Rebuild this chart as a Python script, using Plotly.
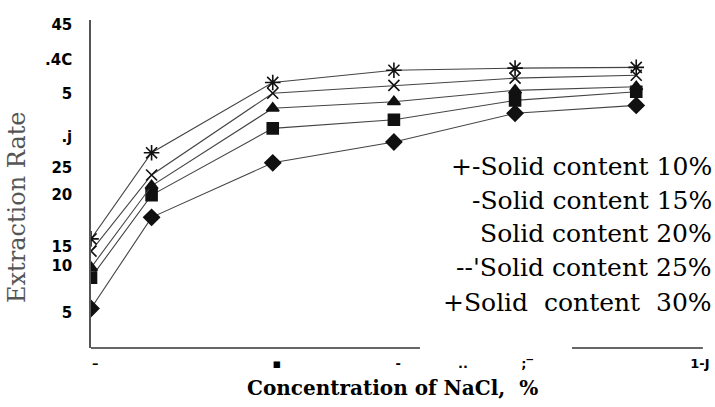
import plotly.graph_objects as go

# NaCl concentration (%)
nacl = [0, 1, 3, 5, 7, 9]

# Extraction rate per solid content
solid_10 = [5.5, 18.2, 25.8, 28.7, 32.7, 33.8]
solid_15 = [9.8, 21.3, 30.6, 31.8, 34.5, 35.7]
solid_20 = [11.2, 22.6, 33.4, 34.3, 35.9, 36.4]
solid_25 = [13.5, 24.1, 35.5, 36.6, 37.6, 38.0]
solid_30 = [15.2, 27.2, 37.0, 38.7, 39.0, 39.1]

series_names = ["Solid content 10%", "Solid content 15%", "Solid content 20%",
                "Solid content 25%", "Solid content 30%"]
legend_lines = ["+-Solid content 10%", "-Solid content 15%", "Solid content 20%",
                "--'Solid content 25%", "+Solid  content  30%"]

# tick labels as printed in the (scanned) figure
y_tick_vals = [45.0, 40.1, 35.4, 29.4, 25.1, 21.3, 14.1, 11.4, 4.9]
y_tick_text = ["45", ".4C", "5", ".j", "25", "20", "15", "10", "5"]
x_tick_vals = [0.07, 3.07, 5.07, 6.14, 7.2, 10.05]
x_tick_text = ["–", "▪", "-", "..", ";‾", "1-J"]

all_series = [solid_10, solid_15, solid_20, solid_25, solid_30]
symbols = ["diamond", "square", "triangle-up", "x-thin-open", "asterisk-open"]
sizes = [12, 11, 11, 11, 13]

fig = go.Figure()
for name, vals, sym, sz in zip(series_names, all_series, symbols, sizes):
    fig.add_trace(go.Scatter(
        x=nacl, y=vals, name=name, mode="lines+markers",
        line=dict(color="#444444", width=1.1),
        marker=dict(symbol=sym, size=sz, color="#111111",
                    line=dict(color="#111111", width=1.6)),
        showlegend=False,
    ))

serif = "DejaVu Serif, serif"
sans = "DejaVu Sans, sans-serif"

PW = 715 - 91  # plot width in px
PH = 407 - 20 - 59  # plot height in px

fig.update_layout(
    width=715, height=407,
    margin=dict(l=91, r=0, t=20, b=59),
    paper_bgcolor="white", plot_bgcolor="white",
    xaxis=dict(range=[0, 10.3], showgrid=False, zeroline=False, showline=False,
               tickvals=x_tick_vals, ticktext=x_tick_text, ticks="",
               ticklabelstandoff=6,
               tickfont=dict(family=sans, size=13, color="black", weight="bold")),
    yaxis=dict(range=[0, 45.7], showgrid=False, zeroline=False, showline=True,
               linecolor="#555555", linewidth=1.5,
               tickvals=y_tick_vals, ticktext=y_tick_text, ticks="",
               ticklabelstandoff=14,
               tickfont=dict(family=sans, size=15, color="black", weight="bold")),
)

# broken x-axis line as in the scan
for x0, x1 in [(-0.07, 5.43), (7.94, 10.1)]:
    fig.add_shape(type="line", xref="x", yref="paper", x0=x0, x1=x1, y0=0, y1=0,
                  line=dict(color="#333333", width=1.5))

# legend drawn as plain text (no symbols in the original)
legend_y_px = [167, 200, 233, 267, 302]
for txt, ypx in zip(legend_lines, legend_y_px):
    fig.add_annotation(
        text=txt, xref="paper", yref="paper",
        x=(714 - 91) / PW, y=(348 - ypx) / PH,
        xanchor="right", yanchor="middle", showarrow=False,
        font=dict(family=serif, size=25, color="black"),
    )

fig.add_annotation(
    text="Extraction Rate", xref="paper", yref="paper",
    x=(17 - 91) / PW, y=(348 - 207) / PH,
    xanchor="center", yanchor="middle", showarrow=False, textangle=-90,
    font=dict(family=serif, size=24, color="#555555"),
)
fig.add_annotation(
    text="Concentration of NaCl,  %", xref="paper", yref="paper",
    x=(392 - 91) / PW, y=(348 - 388) / PH,
    xanchor="center", yanchor="middle", showarrow=False,
    font=dict(family=serif, size=20, color="black", weight="bold"),
)

fig.write_html("out.html", config={"displayModeBar": False},
               post_script="document.body.style.margin='0px';")
